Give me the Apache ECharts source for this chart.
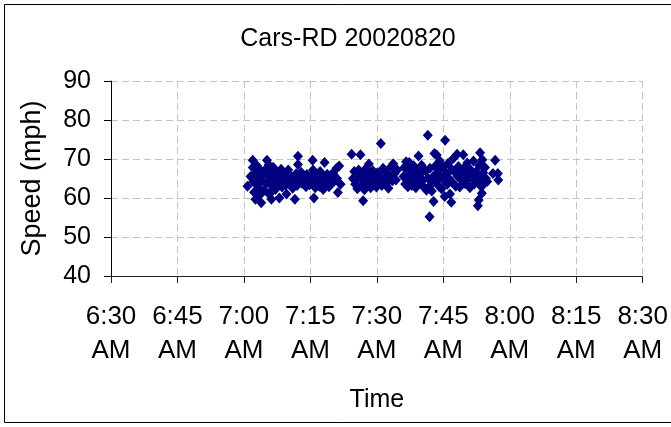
<!DOCTYPE html>
<html>
<head>
<meta charset="utf-8">
<script src="https://cdn.jsdelivr.net/npm/echarts@6/dist/echarts.min.js"></script>
<style>
  html, body { margin: 0; padding: 0; background: #fff; }
  #chart { width: 671px; height: 427px; }
</style>
</head>
<body>
<div id="chart"></div>
<script>
// Spot-speed readings, [minutes past 7:00 AM, speed in mph]
const firstPlatoon = [
  [0.8,63.0],[1.5,65.5],[2.0,69.7],[2.0,67.8],[2.1,64.2],[2.3,61.5],[2.6,59.7],[2.6,66.5],[2.8,63.5],[3.0,68.2],
  [3.2,65.0],[3.4,62.4],[3.6,60.8],[3.9,58.8],[3.8,67.0],[4.0,64.3],[4.3,66.0],[4.5,62.0],[5.2,69.7],[5.0,67.5],
  [5.1,63.8],[5.3,65.6],[5.5,61.2],[5.6,68.5],[5.9,64.8],[5.8,61.0],[6.2,59.7],[6.2,66.8],[6.4,63.0],[6.6,67.9],
  [7.0,65.2],[7.1,62.2],[7.3,64.0],[7.5,66.3],[8.0,60.0],[8.0,63.6],[8.2,65.8],[8.4,67.4],[8.6,62.8],[8.9,64.6],
  [9.1,66.0],[9.4,63.3],[9.6,61.0],[9.8,65.0],[10.0,67.2],[10.3,63.9],[10.8,65.4],[11.0,62.5],[11.5,59.7],[11.6,64.4],
  [11.8,66.2],[12.2,70.7],[12.2,68.6],[12.0,63.2],[12.3,65.1],[12.6,64.0],[12.9,66.6],[13.1,63.8],[13.4,65.3],[13.7,64.2],
  [14.0,62.9],[14.2,66.0],[14.5,64.7],[14.8,63.4],[15.5,69.7],[15.2,65.5],[15.8,60.0],[15.6,67.2],[15.9,64.1],[16.1,62.6],
  [16.4,65.9],[16.7,64.5],[17.0,63.0],[17.2,66.8],[17.5,64.0],[18.2,69.1],[17.9,62.2],[18.2,65.3],[18.5,63.6],[18.8,66.1],
  [19.0,64.8],[19.2,62.9],[19.5,65.7],[19.8,63.8],[20.1,66.4],[20.4,64.3],[21.2,61.4],[20.9,67.6],[21.0,65.0],[21.5,68.2],
  [21.8,63.5]
];
const secondPlatoon = [
  [24.3,71.2],[24.6,65.0],[24.9,66.8],[25.1,63.5],[25.4,64.6],[25.6,62.4],[25.9,67.2],[26.1,65.6],[26.3,71.1],[26.5,63.0],
  [26.7,66.0],[26.9,59.3],[27.0,64.2],[27.2,62.1],[27.5,67.5],[27.7,65.3],[28.0,63.4],[28.2,68.7],[28.4,66.2],[28.6,62.6],
  [28.9,64.7],[29.1,67.0],[29.3,63.6],[29.6,65.8],[29.9,62.8],[30.1,66.5],[30.4,64.2],[30.9,74.0],[30.9,65.4],[31.1,63.2],
  [31.4,67.6],[31.7,64.9],[32.0,66.8],[32.3,63.9],[32.6,62.5],[32.9,65.5],[33.2,68.0],[33.5,64.4],[33.7,68.8],[34.0,66.3],
  [34.3,64.6],[34.6,67.2]
];
const thirdPlatoon = [
  [36.0,65.5],[36.2,67.8],[36.4,63.6],[36.6,69.3],[36.8,65.0],[37.0,62.9],[37.2,66.8],[37.3,69.1],[37.5,64.3],[37.7,67.5],
  [37.9,63.2],[38.1,66.0],[38.3,68.3],[38.5,64.8],[38.8,62.6],[39.0,67.0],[39.2,65.2],[39.4,70.8],[39.6,63.8],[39.9,66.4],
  [40.1,68.4],[40.4,64.6],[40.7,62.7],[41.0,66.9],[41.2,62.0],[41.5,76.1],[41.6,65.0],[41.9,55.2],[42.0,67.6],[42.2,63.4],
  [42.4,61.8],[42.8,59.1],[42.8,65.6],[43.0,71.4],[43.2,68.2],[43.3,64.2],[43.5,71.0],[43.8,66.8],[44.0,63.0],[44.2,69.5],
  [44.4,65.3],[44.6,62.4],[44.9,67.8],[45.1,64.6],[45.3,60.4],[45.4,74.8],[45.7,66.2],[45.9,63.5],[46.1,68.9],[46.3,65.0],
  [46.5,61.0],[46.8,58.9],[46.9,67.4],[47.1,64.0],[47.3,70.2],[47.6,66.6],[47.8,63.0],[48.1,71.2],[48.2,65.6],[48.4,68.1],
  [48.7,62.8],[48.9,66.9],[49.2,64.4],[49.5,71.1],[49.7,67.7],[49.9,63.7],[50.2,65.9],[50.4,69.0],[50.7,64.9],[51.0,62.6],
  [51.2,67.2],[51.5,65.4],[51.8,69.5],[52.0,63.6],[52.3,66.6],[52.8,58.0],[52.9,64.8],[53.0,59.5],[53.1,68.3],[53.3,71.6],
  [53.5,65.7],[53.7,61.2],[53.6,62.9],[53.8,69.8],[54.0,66.5],[54.2,63.8],[54.4,67.8],[54.6,65.0],[54.9,64.2],[56.2,66.3],
  [56.7,69.7],[57.3,66.3],[57.4,64.6]
];
const timeTicks = ['6:30 AM', '6:45 AM', '7:00 AM', '7:15 AM', '7:30 AM', '7:45 AM', '8:00 AM', '8:15 AM', '8:30 AM'];
const speedTicks = [40, 50, 60, 70, 80, 90];

const AXIS_START = 390;   // 6:30 AM in minutes after midnight
const TICK_STEP = 15;
const SEVEN_AM = 420;

const points = [...firstPlatoon, ...secondPlatoon, ...thirdPlatoon]
  .map(([m, mph]) => [SEVEN_AM + m, mph]);

const FONT = 'Liberation Sans, Arial, sans-serif';
const chart = echarts.init(document.getElementById('chart'), null, { renderer: 'canvas' });

chart.setOption({
  backgroundColor: '#ffffff',
  animation: false,
  graphic: [
    {
      type: 'rect',
      shape: { x: 4.5, y: 4.5, width: 700, height: 418 },
      style: { fill: 'none', stroke: '#000000', lineWidth: 1 },
      silent: true,
      z: -10
    }
  ],
  title: {
    text: 'Cars-RD 20020820',
    left: 343,
    top: 22,
    textAlign: 'center',
    textStyle: { fontFamily: FONT, fontSize: 25, fontWeight: 'normal', color: '#000' }
  },
  grid: { left: 111, right: 24, top: 81, bottom: 151, containLabel: false },
  xAxis: {
    type: 'value',
    min: AXIS_START,
    max: AXIS_START + TICK_STEP * (timeTicks.length - 1),
    interval: TICK_STEP,
    name: 'Time',
    nameLocation: 'middle',
    nameGap: 124,
    nameTextStyle: { fontFamily: FONT, fontSize: 25, color: '#000', verticalAlign: 'middle' },
    axisLine: { show: true, onZero: false, lineStyle: { color: '#222', width: 1 } },
    axisTick: { show: true, inside: false, length: 7, lineStyle: { color: '#222' } },
    axisLabel: {
      margin: 24,
      fontFamily: FONT,
      fontSize: 26,
      lineHeight: 34,
      color: '#000',
      showMaxLabel: true,
      showMinLabel: true,
      formatter: v => timeTicks[Math.round((v - AXIS_START) / TICK_STEP)].replace(' ', '\n')
    },
    splitLine: { show: true, lineStyle: { color: '#c4c4c4', type: [7, 4], width: 1 } }
  },
  yAxis: {
    type: 'value',
    min: speedTicks[0],
    max: speedTicks[speedTicks.length - 1],
    interval: 10,
    name: 'Speed (mph)',
    nameLocation: 'middle',
    nameGap: 78,
    nameRotate: 90,
    nameTextStyle: { fontFamily: FONT, fontSize: 27, color: '#000', verticalAlign: 'middle' },
    axisLine: { show: true, lineStyle: { color: '#000', width: 1 } },
    axisTick: { show: true, inside: false, length: 7, lineStyle: { color: '#000' } },
    axisLabel: { margin: 20, fontFamily: FONT, fontSize: 25, color: '#000' },
    splitLine: { show: true, lineStyle: { color: '#c4c4c4', type: [7, 4], width: 1 } }
  },
  series: [
    {
      type: 'scatter',
      data: points,
      symbol: 'diamond',
      symbolSize: [10, 11],
      itemStyle: { color: '#000080', opacity: 1 }
    }
  ]
});
</script>
</body>
</html>
